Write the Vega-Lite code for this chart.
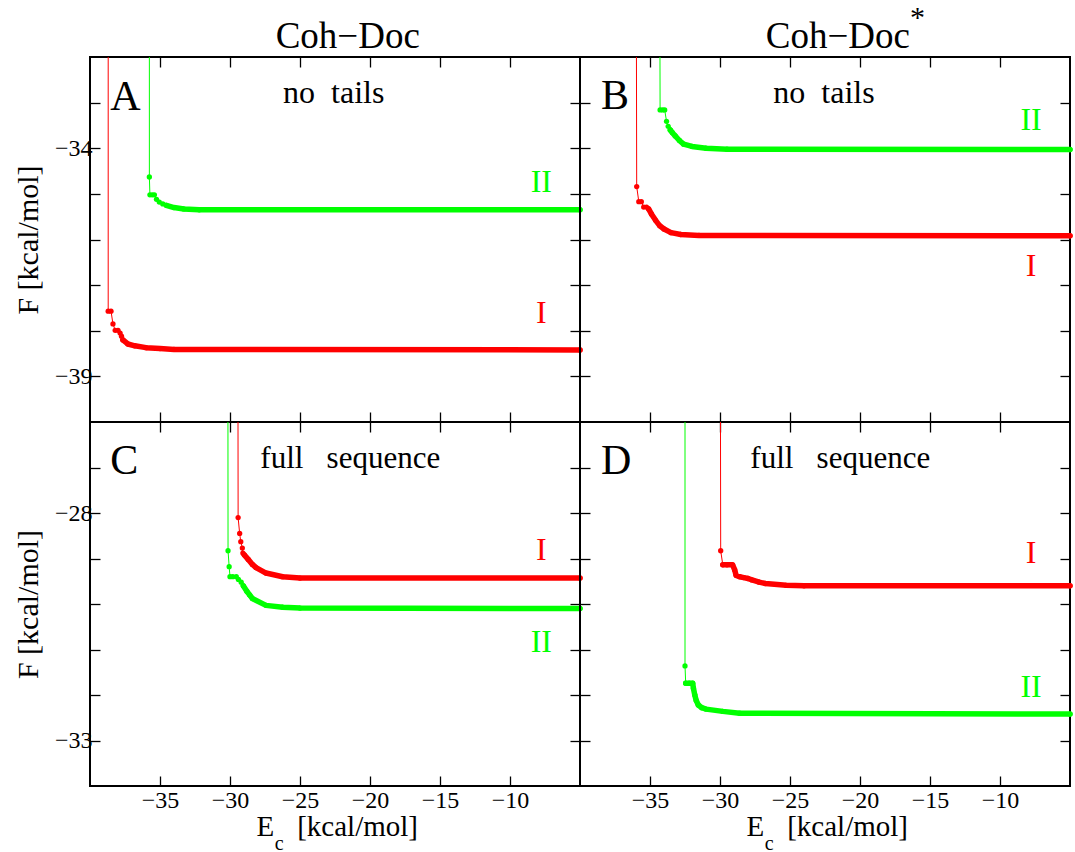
{
  "$schema": "https://vega.github.io/schema/vega-lite/v6.json",
  "background": "white",
  "padding": {"left": 12, "top": 1, "right": 0, "bottom": 0},
  "config": {
    "font": "Liberation Serif",
    "view": {"stroke": "black", "strokeWidth": 2},
    "axis": {"domain": false, "grid": false, "tickColor": "black", "tickSize": -10, "tickWidth": 1.3, "labelFont": "Liberation Serif", "labelFontSize": 24, "labelColor": "black", "labelOverlap": false, "labelFlush": false, "titleFont": "Liberation Serif", "titleFontSize": 30, "titleFontWeight": "normal", "titleColor": "black"},
    "text": {"font": "Liberation Serif", "baseline": "alphabetic", "color": "black"}
  },
  "datasets": {
    "curves": [
      {"panel":"A","series":"I","k":0,"seg":"tail","Ec":-38.7,"F":-30},
      {"panel":"A","series":"I","k":1,"seg":"dot","Ec":-38.7,"F":-37.57},
      {"panel":"A","series":"I","k":2,"seg":"dot","Ec":-38.5,"F":-37.57},
      {"panel":"A","series":"I","k":3,"seg":"dot","Ec":-38.36,"F":-37.85},
      {"panel":"A","series":"I","k":4,"seg":"dot","Ec":-38.2,"F":-37.99},
      {"panel":"A","series":"I","k":5,"seg":"dot","Ec":-38.0,"F":-37.99},
      {"panel":"A","series":"I","k":6,"seg":"dot","Ec":-37.85,"F":-38.05},
      {"panel":"A","series":"I","k":7,"seg":"dot","Ec":-37.75,"F":-38.12},
      {"panel":"A","series":"I","k":8,"seg":"plateau","Ec":-37.65,"F":-38.2},
      {"panel":"A","series":"I","k":9,"seg":"plateau","Ec":-37.3,"F":-38.29},
      {"panel":"A","series":"I","k":10,"seg":"plateau","Ec":-36.8,"F":-38.33},
      {"panel":"A","series":"I","k":11,"seg":"plateau","Ec":-36.0,"F":-38.37},
      {"panel":"A","series":"I","k":12,"seg":"plateau","Ec":-35.0,"F":-38.39},
      {"panel":"A","series":"I","k":13,"seg":"plateau","Ec":-34.0,"F":-38.41},
      {"panel":"A","series":"I","k":14,"seg":"plateau","Ec":-5,"F":-38.42},
      {"panel":"A","series":"II","k":0,"seg":"tail","Ec":-35.76,"F":-30},
      {"panel":"A","series":"II","k":1,"seg":"dot","Ec":-35.76,"F":-34.63},
      {"panel":"A","series":"II","k":2,"seg":"dot","Ec":-35.72,"F":-35.02},
      {"panel":"A","series":"II","k":3,"seg":"dot","Ec":-35.55,"F":-35.02},
      {"panel":"A","series":"II","k":4,"seg":"dot","Ec":-35.4,"F":-35.02},
      {"panel":"A","series":"II","k":5,"seg":"dot","Ec":-35.25,"F":-35.12},
      {"panel":"A","series":"II","k":6,"seg":"dot","Ec":-35.05,"F":-35.18},
      {"panel":"A","series":"II","k":7,"seg":"dot","Ec":-34.8,"F":-35.22},
      {"panel":"A","series":"II","k":8,"seg":"plateau","Ec":-34.55,"F":-35.25},
      {"panel":"A","series":"II","k":9,"seg":"plateau","Ec":-34.0,"F":-35.3},
      {"panel":"A","series":"II","k":10,"seg":"plateau","Ec":-33.3,"F":-35.33},
      {"panel":"A","series":"II","k":11,"seg":"plateau","Ec":-32.2,"F":-35.35},
      {"panel":"A","series":"II","k":12,"seg":"plateau","Ec":-5,"F":-35.35},
      {"panel":"B","series":"I","k":0,"seg":"tail","Ec":-35.98,"F":-30},
      {"panel":"B","series":"I","k":1,"seg":"dot","Ec":-35.95,"F":-34.84},
      {"panel":"B","series":"I","k":2,"seg":"dot","Ec":-35.8,"F":-35.17},
      {"panel":"B","series":"I","k":3,"seg":"dot","Ec":-35.62,"F":-35.17},
      {"panel":"B","series":"I","k":4,"seg":"dot","Ec":-35.45,"F":-35.29},
      {"panel":"B","series":"I","k":5,"seg":"dot","Ec":-35.25,"F":-35.29},
      {"panel":"B","series":"I","k":6,"seg":"plateau","Ec":-35.1,"F":-35.33},
      {"panel":"B","series":"I","k":7,"seg":"plateau","Ec":-34.9,"F":-35.44},
      {"panel":"B","series":"I","k":8,"seg":"plateau","Ec":-34.6,"F":-35.58},
      {"panel":"B","series":"I","k":9,"seg":"plateau","Ec":-34.3,"F":-35.7},
      {"panel":"B","series":"I","k":10,"seg":"plateau","Ec":-34.0,"F":-35.77},
      {"panel":"B","series":"I","k":11,"seg":"plateau","Ec":-33.5,"F":-35.85},
      {"panel":"B","series":"I","k":12,"seg":"plateau","Ec":-32.8,"F":-35.89},
      {"panel":"B","series":"I","k":13,"seg":"plateau","Ec":-31.5,"F":-35.91},
      {"panel":"B","series":"I","k":14,"seg":"plateau","Ec":-5,"F":-35.92},
      {"panel":"B","series":"II","k":0,"seg":"tail","Ec":-34.3,"F":-30},
      {"panel":"B","series":"II","k":1,"seg":"dot","Ec":-34.28,"F":-33.16},
      {"panel":"B","series":"II","k":2,"seg":"dot","Ec":-34.1,"F":-33.16},
      {"panel":"B","series":"II","k":3,"seg":"dot","Ec":-33.95,"F":-33.16},
      {"panel":"B","series":"II","k":4,"seg":"dot","Ec":-33.82,"F":-33.41},
      {"panel":"B","series":"II","k":5,"seg":"dot","Ec":-33.7,"F":-33.52},
      {"panel":"B","series":"II","k":6,"seg":"plateau","Ec":-33.55,"F":-33.6},
      {"panel":"B","series":"II","k":7,"seg":"plateau","Ec":-33.4,"F":-33.66},
      {"panel":"B","series":"II","k":8,"seg":"plateau","Ec":-33.2,"F":-33.73},
      {"panel":"B","series":"II","k":9,"seg":"plateau","Ec":-32.9,"F":-33.83},
      {"panel":"B","series":"II","k":10,"seg":"plateau","Ec":-32.6,"F":-33.91},
      {"panel":"B","series":"II","k":11,"seg":"plateau","Ec":-32.0,"F":-33.96},
      {"panel":"B","series":"II","k":12,"seg":"plateau","Ec":-31.0,"F":-34.0},
      {"panel":"B","series":"II","k":13,"seg":"plateau","Ec":-29.5,"F":-34.02},
      {"panel":"B","series":"II","k":14,"seg":"plateau","Ec":-5,"F":-34.03},
      {"panel":"C","series":"I","k":0,"seg":"tail","Ec":-29.45,"F":-20},
      {"panel":"C","series":"I","k":1,"seg":"dot","Ec":-29.42,"F":-28.1},
      {"panel":"C","series":"I","k":2,"seg":"dot","Ec":-29.31,"F":-28.45},
      {"panel":"C","series":"I","k":3,"seg":"dot","Ec":-29.23,"F":-28.63},
      {"panel":"C","series":"I","k":4,"seg":"dot","Ec":-29.12,"F":-28.77},
      {"panel":"C","series":"I","k":5,"seg":"dot","Ec":-29.08,"F":-28.88},
      {"panel":"C","series":"I","k":6,"seg":"plateau","Ec":-28.98,"F":-28.92},
      {"panel":"C","series":"I","k":7,"seg":"plateau","Ec":-28.7,"F":-29.02},
      {"panel":"C","series":"I","k":8,"seg":"plateau","Ec":-28.4,"F":-29.13},
      {"panel":"C","series":"I","k":9,"seg":"plateau","Ec":-28.14,"F":-29.2},
      {"panel":"C","series":"I","k":10,"seg":"plateau","Ec":-27.43,"F":-29.32},
      {"panel":"C","series":"I","k":11,"seg":"plateau","Ec":-26.24,"F":-29.4},
      {"panel":"C","series":"I","k":12,"seg":"plateau","Ec":-25.0,"F":-29.43},
      {"panel":"C","series":"I","k":13,"seg":"plateau","Ec":-5,"F":-29.43},
      {"panel":"C","series":"II","k":0,"seg":"tail","Ec":-30.16,"F":-20},
      {"panel":"C","series":"II","k":1,"seg":"dot","Ec":-30.14,"F":-28.83},
      {"panel":"C","series":"II","k":2,"seg":"dot","Ec":-30.06,"F":-29.18},
      {"panel":"C","series":"II","k":3,"seg":"dot","Ec":-30.0,"F":-29.4},
      {"panel":"C","series":"II","k":4,"seg":"dot","Ec":-29.8,"F":-29.4},
      {"panel":"C","series":"II","k":5,"seg":"dot","Ec":-29.55,"F":-29.4},
      {"panel":"C","series":"II","k":6,"seg":"dot","Ec":-29.4,"F":-29.46},
      {"panel":"C","series":"II","k":7,"seg":"dot","Ec":-29.2,"F":-29.52},
      {"panel":"C","series":"II","k":8,"seg":"plateau","Ec":-29.05,"F":-29.6},
      {"panel":"C","series":"II","k":9,"seg":"plateau","Ec":-28.8,"F":-29.72},
      {"panel":"C","series":"II","k":10,"seg":"plateau","Ec":-28.6,"F":-29.8},
      {"panel":"C","series":"II","k":11,"seg":"plateau","Ec":-28.4,"F":-29.88},
      {"panel":"C","series":"II","k":12,"seg":"plateau","Ec":-27.43,"F":-30.03},
      {"panel":"C","series":"II","k":13,"seg":"plateau","Ec":-26.24,"F":-30.07},
      {"panel":"C","series":"II","k":14,"seg":"plateau","Ec":-25.0,"F":-30.09},
      {"panel":"C","series":"II","k":15,"seg":"plateau","Ec":-5,"F":-30.1},
      {"panel":"D","series":"I","k":0,"seg":"tail","Ec":-30.0,"F":-20},
      {"panel":"D","series":"I","k":1,"seg":"dot","Ec":-29.95,"F":-28.83},
      {"panel":"D","series":"I","k":2,"seg":"plateau","Ec":-29.8,"F":-29.14},
      {"panel":"D","series":"I","k":3,"seg":"plateau","Ec":-29.5,"F":-29.14},
      {"panel":"D","series":"I","k":4,"seg":"plateau","Ec":-29.1,"F":-29.14},
      {"panel":"D","series":"I","k":5,"seg":"plateau","Ec":-28.95,"F":-29.25},
      {"panel":"D","series":"I","k":6,"seg":"plateau","Ec":-28.85,"F":-29.37},
      {"panel":"D","series":"I","k":7,"seg":"plateau","Ec":-28.6,"F":-29.4},
      {"panel":"D","series":"I","k":8,"seg":"plateau","Ec":-28.3,"F":-29.42},
      {"panel":"D","series":"I","k":9,"seg":"plateau","Ec":-28.0,"F":-29.44},
      {"panel":"D","series":"I","k":10,"seg":"plateau","Ec":-27.72,"F":-29.47},
      {"panel":"D","series":"I","k":11,"seg":"plateau","Ec":-27.2,"F":-29.52},
      {"panel":"D","series":"I","k":12,"seg":"plateau","Ec":-26.75,"F":-29.55},
      {"panel":"D","series":"I","k":13,"seg":"plateau","Ec":-25.28,"F":-29.59},
      {"panel":"D","series":"I","k":14,"seg":"plateau","Ec":-24.0,"F":-29.6},
      {"panel":"D","series":"I","k":15,"seg":"plateau","Ec":-5,"F":-29.6},
      {"panel":"D","series":"II","k":0,"seg":"tail","Ec":-32.5,"F":-20},
      {"panel":"D","series":"II","k":1,"seg":"dot","Ec":-32.5,"F":-31.36},
      {"panel":"D","series":"II","k":2,"seg":"plateau","Ec":-32.45,"F":-31.74},
      {"panel":"D","series":"II","k":3,"seg":"plateau","Ec":-32.2,"F":-31.74},
      {"panel":"D","series":"II","k":4,"seg":"plateau","Ec":-31.95,"F":-31.74},
      {"panel":"D","series":"II","k":5,"seg":"plateau","Ec":-31.9,"F":-31.85},
      {"panel":"D","series":"II","k":6,"seg":"plateau","Ec":-31.8,"F":-32.0},
      {"panel":"D","series":"II","k":7,"seg":"plateau","Ec":-31.7,"F":-32.12},
      {"panel":"D","series":"II","k":8,"seg":"plateau","Ec":-31.55,"F":-32.22},
      {"panel":"D","series":"II","k":9,"seg":"plateau","Ec":-31.3,"F":-32.28},
      {"panel":"D","series":"II","k":10,"seg":"plateau","Ec":-31.0,"F":-32.31},
      {"panel":"D","series":"II","k":11,"seg":"plateau","Ec":-29.8,"F":-32.36},
      {"panel":"D","series":"II","k":12,"seg":"plateau","Ec":-28.6,"F":-32.4},
      {"panel":"D","series":"II","k":13,"seg":"plateau","Ec":-5,"F":-32.42}
    ]
  },
  "columns": 2,
  "spacing": 0,
  "bounds": "flush",
  "concat": [
    {
      "width": 490, "height": 365,
      "data": {"name": "curves"},
      "layer": [
        {"transform": [{"filter": "datum.panel == 'A'"}],
         "mark": {"type": "line", "strokeWidth": 1, "clip": true},
         "encoding": {
           "x": {"field": "Ec", "type": "quantitative", "scale": {"domain": [-40, -5]}, "axis": {"orient": "bottom", "values": [-35, -30, -25, -20, -15, -10], "labels": false, "title": null}},
           "y": {"field": "F", "type": "quantitative", "scale": {"domain": [-40, -32]}, "axis": {"orient": "left", "values": [-39, -38, -37, -36, -35, -34, -33], "labelPadding": 8, "labelExpr": "datum.value == -34 || datum.value == -39 ? datum.label : ''", "title": "F [kcal/mol]", "titlePadding": 11}},
           "color": {"field": "series", "type": "nominal", "scale": {"domain": ["I", "II"], "range": ["#ff0000", "#00ff00"]}, "legend": null},
           "order": {"field": "k"}
         }},
        {"transform": [{"filter": "datum.panel == 'A' && datum.seg == 'plateau'"}],
         "mark": {"type": "line", "strokeWidth": 5.5, "strokeCap": "round", "strokeJoin": "round"},
         "encoding": {
           "x": {"field": "Ec", "type": "quantitative", "axis": {"orient": "top", "values": [-35, -30, -25, -20, -15, -10], "labels": false, "title": null}},
           "y": {"field": "F", "type": "quantitative", "axis": {"orient": "right", "values": [-39, -38, -37, -36, -35, -34, -33], "labels": false, "title": null}},
           "color": {"field": "series", "type": "nominal", "legend": null},
           "order": {"field": "k"}
         }},
        {"transform": [{"filter": "datum.panel == 'A' && datum.seg != 'tail'"}],
         "mark": {"type": "circle", "size": 28, "opacity": 1},
         "encoding": {
           "x": {"field": "Ec", "type": "quantitative", "axis": null},
           "y": {"field": "F", "type": "quantitative", "axis": null},
           "color": {"field": "series", "type": "nominal", "legend": null}
         }},
        {"data": {"values": [{}]}, "mark": {"type": "text", "text": "Coh−Doc", "fontSize": 37, "align": "center"},
         "encoding": {"x": {"datum": -21.59, "type": "quantitative", "axis": null}, "y": {"datum": -31.8, "type": "quantitative", "axis": null}}},
        {"data": {"values": [{}]}, "mark": {"type": "text", "text": "A", "fontSize": 42, "align": "left"},
         "encoding": {"x": {"datum": -38.55, "type": "quantitative", "axis": null}, "y": {"datum": -33.16, "type": "quantitative", "axis": null}}},
        {"data": {"values": [{}]}, "mark": {"type": "text", "text": "no\u2002tails", "fontSize": 32, "align": "center"},
         "encoding": {"x": {"datum": -22.59, "type": "quantitative", "axis": null}, "y": {"datum": -33.0, "type": "quantitative", "axis": null}}},
        {"data": {"values": [{}]}, "mark": {"type": "text", "text": "II", "fontSize": 32, "align": "center", "color": "#00ff00"},
         "encoding": {"x": {"datum": -7.76, "type": "quantitative", "axis": null}, "y": {"datum": -34.95, "type": "quantitative", "axis": null}}},
        {"data": {"values": [{}]}, "mark": {"type": "text", "text": "I", "fontSize": 32, "align": "center", "color": "#ff0000"},
         "encoding": {"x": {"datum": -7.76, "type": "quantitative", "axis": null}, "y": {"datum": -37.83, "type": "quantitative", "axis": null}}}
      ],
      "resolve": {"axis": {"x": "independent", "y": "independent"}}
    },
    {
      "width": 490, "height": 365,
      "data": {"name": "curves"},
      "layer": [
        {"transform": [{"filter": "datum.panel == 'B'"}],
         "mark": {"type": "line", "strokeWidth": 1, "clip": true},
         "encoding": {
           "x": {"field": "Ec", "type": "quantitative", "scale": {"domain": [-40, -5]}, "axis": {"orient": "bottom", "values": [-35, -30, -25, -20, -15, -10], "labels": false, "title": null}},
           "y": {"field": "F", "type": "quantitative", "scale": {"domain": [-40, -32]}, "axis": {"orient": "left", "values": [-39, -38, -37, -36, -35, -34, -33], "labels": false, "title": null}},
           "color": {"field": "series", "type": "nominal", "scale": {"domain": ["I", "II"], "range": ["#ff0000", "#00ff00"]}, "legend": null},
           "order": {"field": "k"}
         }},
        {"transform": [{"filter": "datum.panel == 'B' && datum.seg == 'plateau'"}],
         "mark": {"type": "line", "strokeWidth": 5.5, "strokeCap": "round", "strokeJoin": "round"},
         "encoding": {
           "x": {"field": "Ec", "type": "quantitative", "axis": {"orient": "top", "values": [-35, -30, -25, -20, -15, -10], "labels": false, "title": null}},
           "y": {"field": "F", "type": "quantitative", "axis": {"orient": "right", "values": [-39, -38, -37, -36, -35, -34, -33], "labels": false, "title": null}},
           "color": {"field": "series", "type": "nominal", "legend": null},
           "order": {"field": "k"}
         }},
        {"transform": [{"filter": "datum.panel == 'B' && datum.seg != 'tail'"}],
         "mark": {"type": "circle", "size": 28, "opacity": 1},
         "encoding": {
           "x": {"field": "Ec", "type": "quantitative", "axis": null},
           "y": {"field": "F", "type": "quantitative", "axis": null},
           "color": {"field": "series", "type": "nominal", "legend": null}
         }},
        {"data": {"values": [{}]}, "mark": {"type": "text", "text": "Coh−Doc", "fontSize": 37, "align": "center"},
         "encoding": {"x": {"datum": -21.58, "type": "quantitative", "axis": null}, "y": {"datum": -31.8, "type": "quantitative", "axis": null}}},
        {"data": {"values": [{}]}, "mark": {"type": "text", "text": "*", "fontSize": 30, "align": "center"},
         "encoding": {"x": {"datum": -15.89, "type": "quantitative", "axis": null}, "y": {"datum": -31.34, "type": "quantitative", "axis": null}}},
        {"data": {"values": [{}]}, "mark": {"type": "text", "text": "B", "fontSize": 42, "align": "left"},
         "encoding": {"x": {"datum": -38.5, "type": "quantitative", "axis": null}, "y": {"datum": -33.14, "type": "quantitative", "axis": null}}},
        {"data": {"values": [{}]}, "mark": {"type": "text", "text": "no\u2002tails", "fontSize": 32, "align": "center"},
         "encoding": {"x": {"datum": -22.57, "type": "quantitative", "axis": null}, "y": {"datum": -33.0, "type": "quantitative", "axis": null}}},
        {"data": {"values": [{}]}, "mark": {"type": "text", "text": "II", "fontSize": 32, "align": "center", "color": "#00ff00"},
         "encoding": {"x": {"datum": -7.78, "type": "quantitative", "axis": null}, "y": {"datum": -33.59, "type": "quantitative", "axis": null}}},
        {"data": {"values": [{}]}, "mark": {"type": "text", "text": "I", "fontSize": 32, "align": "center", "color": "#ff0000"},
         "encoding": {"x": {"datum": -7.78, "type": "quantitative", "axis": null}, "y": {"datum": -36.79, "type": "quantitative", "axis": null}}}
      ],
      "resolve": {"axis": {"x": "independent", "y": "independent"}}
    },
    {
      "width": 490, "height": 364,
      "data": {"name": "curves"},
      "layer": [
        {"transform": [{"filter": "datum.panel == 'C'"}],
         "mark": {"type": "line", "strokeWidth": 1, "clip": true},
         "encoding": {
           "x": {"field": "Ec", "type": "quantitative", "scale": {"domain": [-40, -5]}, "axis": {"orient": "bottom", "values": [-35, -30, -25, -20, -15, -10], "labelPadding": 12, "title": null}},
           "y": {"field": "F", "type": "quantitative", "scale": {"domain": [-34, -26]}, "axis": {"orient": "left", "values": [-33, -32, -31, -30, -29, -28, -27], "labelPadding": 8, "labelExpr": "datum.value == -28 || datum.value == -33 ? datum.label : ''", "title": "F [kcal/mol]", "titlePadding": 11}},
           "color": {"field": "series", "type": "nominal", "scale": {"domain": ["I", "II"], "range": ["#ff0000", "#00ff00"]}, "legend": null},
           "order": {"field": "k"}
         }},
        {"transform": [{"filter": "datum.panel == 'C' && datum.seg == 'plateau'"}],
         "mark": {"type": "line", "strokeWidth": 5.5, "strokeCap": "round", "strokeJoin": "round"},
         "encoding": {
           "x": {"field": "Ec", "type": "quantitative", "axis": {"orient": "top", "values": [-35, -30, -25, -20, -15, -10], "labels": false, "title": null}},
           "y": {"field": "F", "type": "quantitative", "axis": {"orient": "right", "values": [-33, -32, -31, -30, -29, -28, -27], "labels": false, "title": null}},
           "color": {"field": "series", "type": "nominal", "legend": null},
           "order": {"field": "k"}
         }},
        {"transform": [{"filter": "datum.panel == 'C' && datum.seg != 'tail'"}],
         "mark": {"type": "circle", "size": 28, "opacity": 1},
         "encoding": {
           "x": {"field": "Ec", "type": "quantitative", "axis": null},
           "y": {"field": "F", "type": "quantitative", "axis": null},
           "color": {"field": "series", "type": "nominal", "legend": null}
         }},
        {"data": {"values": [{}]}, "mark": {"type": "text", "text": "C", "fontSize": 42, "align": "left"},
         "encoding": {"x": {"datum": -38.55, "type": "quantitative", "axis": null}, "y": {"datum": -27.14, "type": "quantitative", "axis": null}}},
        {"data": {"values": [{}]}, "mark": {"type": "text", "text": "full\u2002\u2005sequence", "fontSize": 31, "align": "center"},
         "encoding": {"x": {"datum": -21.41, "type": "quantitative", "axis": null}, "y": {"datum": -27.02, "type": "quantitative", "axis": null}}},
        {"data": {"values": [{}]}, "mark": {"type": "text", "text": "I", "fontSize": 32, "align": "center", "color": "#ff0000"},
         "encoding": {"x": {"datum": -7.76, "type": "quantitative", "axis": null}, "y": {"datum": -29.03, "type": "quantitative", "axis": null}}},
        {"data": {"values": [{}]}, "mark": {"type": "text", "text": "II", "fontSize": 32, "align": "center", "color": "#00ff00"},
         "encoding": {"x": {"datum": -7.76, "type": "quantitative", "axis": null}, "y": {"datum": -31.05, "type": "quantitative", "axis": null}}},
        {"data": {"values": [{}]}, "mark": {"type": "text", "text": "E", "fontSize": 29, "align": "right"},
         "encoding": {"x": {"datum": -26.85, "type": "quantitative", "axis": null}, "y": {"datum": -35.1, "type": "quantitative", "axis": null}}},
        {"data": {"values": [{}]}, "mark": {"type": "text", "text": "c", "fontSize": 20, "align": "left"},
         "encoding": {"x": {"datum": -26.8, "type": "quantitative", "axis": null}, "y": {"datum": -35.4, "type": "quantitative", "axis": null}}},
        {"data": {"values": [{}]}, "mark": {"type": "text", "text": "[kcal/mol]", "fontSize": 29, "align": "left"},
         "encoding": {"x": {"datum": -25.2, "type": "quantitative", "axis": null}, "y": {"datum": -35.1, "type": "quantitative", "axis": null}}}
      ],
      "resolve": {"axis": {"x": "independent", "y": "independent"}}
    },
    {
      "width": 490, "height": 364,
      "data": {"name": "curves"},
      "layer": [
        {"transform": [{"filter": "datum.panel == 'D'"}],
         "mark": {"type": "line", "strokeWidth": 1, "clip": true},
         "encoding": {
           "x": {"field": "Ec", "type": "quantitative", "scale": {"domain": [-40, -5]}, "axis": {"orient": "bottom", "values": [-35, -30, -25, -20, -15, -10], "labelPadding": 12, "title": null}},
           "y": {"field": "F", "type": "quantitative", "scale": {"domain": [-34, -26]}, "axis": {"orient": "left", "values": [-33, -32, -31, -30, -29, -28, -27], "labels": false, "title": null}},
           "color": {"field": "series", "type": "nominal", "scale": {"domain": ["I", "II"], "range": ["#ff0000", "#00ff00"]}, "legend": null},
           "order": {"field": "k"}
         }},
        {"transform": [{"filter": "datum.panel == 'D' && datum.seg == 'plateau'"}],
         "mark": {"type": "line", "strokeWidth": 5.5, "strokeCap": "round", "strokeJoin": "round"},
         "encoding": {
           "x": {"field": "Ec", "type": "quantitative", "axis": {"orient": "top", "values": [-35, -30, -25, -20, -15, -10], "labels": false, "title": null}},
           "y": {"field": "F", "type": "quantitative", "axis": {"orient": "right", "values": [-33, -32, -31, -30, -29, -28, -27], "labels": false, "title": null}},
           "color": {"field": "series", "type": "nominal", "legend": null},
           "order": {"field": "k"}
         }},
        {"transform": [{"filter": "datum.panel == 'D' && datum.seg != 'tail'"}],
         "mark": {"type": "circle", "size": 28, "opacity": 1},
         "encoding": {
           "x": {"field": "Ec", "type": "quantitative", "axis": null},
           "y": {"field": "F", "type": "quantitative", "axis": null},
           "color": {"field": "series", "type": "nominal", "legend": null}
         }},
        {"data": {"values": [{}]}, "mark": {"type": "text", "text": "D", "fontSize": 42, "align": "left"},
         "encoding": {"x": {"datum": -38.5, "type": "quantitative", "axis": null}, "y": {"datum": -27.14, "type": "quantitative", "axis": null}}},
        {"data": {"values": [{}]}, "mark": {"type": "text", "text": "full\u2002\u2005sequence", "fontSize": 31, "align": "center"},
         "encoding": {"x": {"datum": -21.41, "type": "quantitative", "axis": null}, "y": {"datum": -27.02, "type": "quantitative", "axis": null}}},
        {"data": {"values": [{}]}, "mark": {"type": "text", "text": "I", "fontSize": 32, "align": "center", "color": "#ff0000"},
         "encoding": {"x": {"datum": -7.78, "type": "quantitative", "axis": null}, "y": {"datum": -29.1, "type": "quantitative", "axis": null}}},
        {"data": {"values": [{}]}, "mark": {"type": "text", "text": "II", "fontSize": 32, "align": "center", "color": "#00ff00"},
         "encoding": {"x": {"datum": -7.78, "type": "quantitative", "axis": null}, "y": {"datum": -32.04, "type": "quantitative", "axis": null}}},
        {"data": {"values": [{}]}, "mark": {"type": "text", "text": "E", "fontSize": 29, "align": "right"},
         "encoding": {"x": {"datum": -26.85, "type": "quantitative", "axis": null}, "y": {"datum": -35.1, "type": "quantitative", "axis": null}}},
        {"data": {"values": [{}]}, "mark": {"type": "text", "text": "c", "fontSize": 20, "align": "left"},
         "encoding": {"x": {"datum": -26.8, "type": "quantitative", "axis": null}, "y": {"datum": -35.4, "type": "quantitative", "axis": null}}},
        {"data": {"values": [{}]}, "mark": {"type": "text", "text": "[kcal/mol]", "fontSize": 29, "align": "left"},
         "encoding": {"x": {"datum": -25.2, "type": "quantitative", "axis": null}, "y": {"datum": -35.1, "type": "quantitative", "axis": null}}}
      ],
      "resolve": {"axis": {"x": "independent", "y": "independent"}}
    }
  ]
}
